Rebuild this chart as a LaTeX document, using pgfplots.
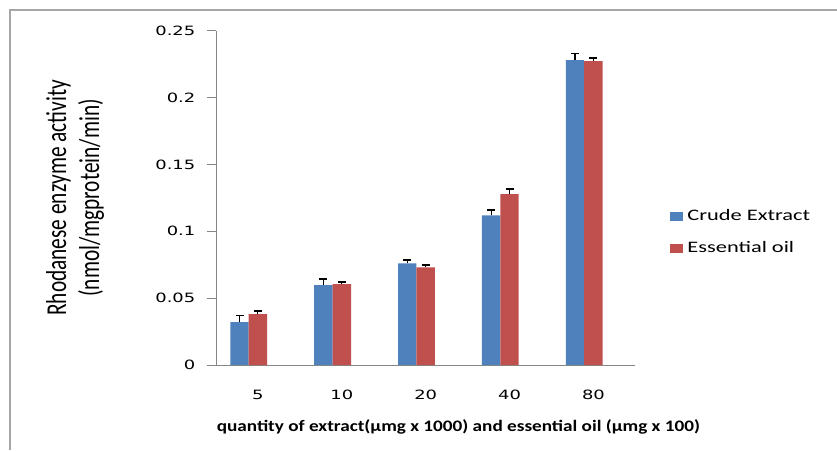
\documentclass[border=0pt]{standalone}
\usepackage{fontspec}
\setmainfont{Carlito}[FakeStretch=1.4]
\newfontfamily\tickfont{DejaVu Sans}[FakeStretch=1.4]
\newfontfamily\ylabfont{Carlito}
\newfontfamily\xlabfont{Carlito}[FakeStretch=1.2]
\usepackage{pgfplots}
\pgfplotsset{compat=1.18}
\definecolor{cblue}{HTML}{4F81BD}
\definecolor{cred}{HTML}{C0504D}
\definecolor{axgray}{HTML}{868686}
\definecolor{framegray}{HTML}{A6A6A6}

\begin{document}
\begin{tikzpicture}
\useasboundingbox (0,0) rectangle (627.75pt,337.5pt);
\draw[framegray, line width=0.9pt] (7.5pt,0) -- (7.5pt,330pt) -- (627.75pt,330pt);
\begin{axis}[
    at={(162pt,63.75pt)}, anchor=south west,
    scale only axis,
    width=314.5pt, height=250.7pt,
    xmin=-0.5, xmax=4.5,
    ymin=0, ymax=0.25,
    axis x line=bottom, axis y line=left,
    axis line style={axgray, line width=0.6pt, -},
    ybar=0pt, bar width=13.8pt,
    ytick={0,0.05,0.1,0.15,0.2,0.25},
    scaled y ticks=false,
    yticklabel style={/pgf/number format/fixed, /pgf/number format/precision=2,
        /pgf/number format/assume math mode=true, font=\tickfont\fontsize{9.6}{11}\selectfont,
        xshift=-5pt},
    xtick={0,1,2,3,4},
    xticklabels={5,10,20,40,80},
    xticklabel style={font=\tickfont\fontsize{9.6}{11}\selectfont, yshift=-8.5pt},
    tick align=outside,
    tick style={axgray, line width=0.6pt},
    major x tick style={draw=none},
    ytick style={axgray},
    major tick length=7pt,
    extra x ticks={-0.5,0.5,1.5,2.5,3.5,4.5},
    extra x tick labels={},
    extra x tick style={major tick length=3.75pt, tick style={draw=axgray}},
    xlabel={\xlabfont\bfseries\fontsize{12}{14}\selectfont quantity of extract(µmg x 1000) and essential oil (µmg x 100)},
    xlabel style={at={(axis description cs:0.578,-0.1846)}, anchor=center},
    ylabel={\scalebox{1}[1.35]{\ylabfont\fontsize{16}{18.4}\selectfont\begin{tabular}{c}Rhodanese enzyme activity\\(nmol/mgprotein/min)\end{tabular}}},
    ylabel style={at={(axis description cs:-0.334,0.5)}, anchor=center},
    legend style={at={(axis description cs:1.083,0.395)}, anchor=west, draw=none,
        fill=none, inner sep=0pt, row sep=13pt,
        font=\fontsize{12}{14}\selectfont,
        nodes={inner xsep=3pt, inner ysep=0pt, text height=8.5pt, text depth=2.5pt}},
    legend cell align=left,
    legend image code/.code={\fill[#1] (0pt,-3.4pt) rectangle (9.75pt,3.4pt);},
]
\addlegendimage{fill=cblue, draw=none}
\addlegendentry{Crude Extract}
\addlegendimage{fill=cred, draw=none}
\addlegendentry{Essential oil}

\addplot[fill=cblue, draw=none, bar shift=-13.8pt, forget plot,
    error bars/.cd, y dir=plus, y explicit,
    error bar style={black, line width=0.8pt},
    error mark options={black, line width=1.4pt, mark size=3pt, rotate=90}]
coordinates {
    (0,0.0320) +- (0,0.0050)
    (1,0.0597) +- (0,0.0043)
    (2,0.0761) +- (0,0.0025)
    (3,0.1120) +- (0,0.0040)
    (4,0.2280) +- (0,0.0050)
};
\addplot[fill=cred, draw=none, bar shift=0pt, forget plot,
    error bars/.cd, y dir=plus, y explicit,
    error bar style={black, line width=0.8pt},
    error mark options={black, line width=1.4pt, mark size=3pt, rotate=90}]
coordinates {
    (0,0.0380) +- (0,0.0027)
    (1,0.0604) +- (0,0.0018)
    (2,0.0731) +- (0,0.0018)
    (3,0.1278) +- (0,0.0040)
    (4,0.2273) +- (0,0.0025)
};
\end{axis}
\end{tikzpicture}
\end{document}
